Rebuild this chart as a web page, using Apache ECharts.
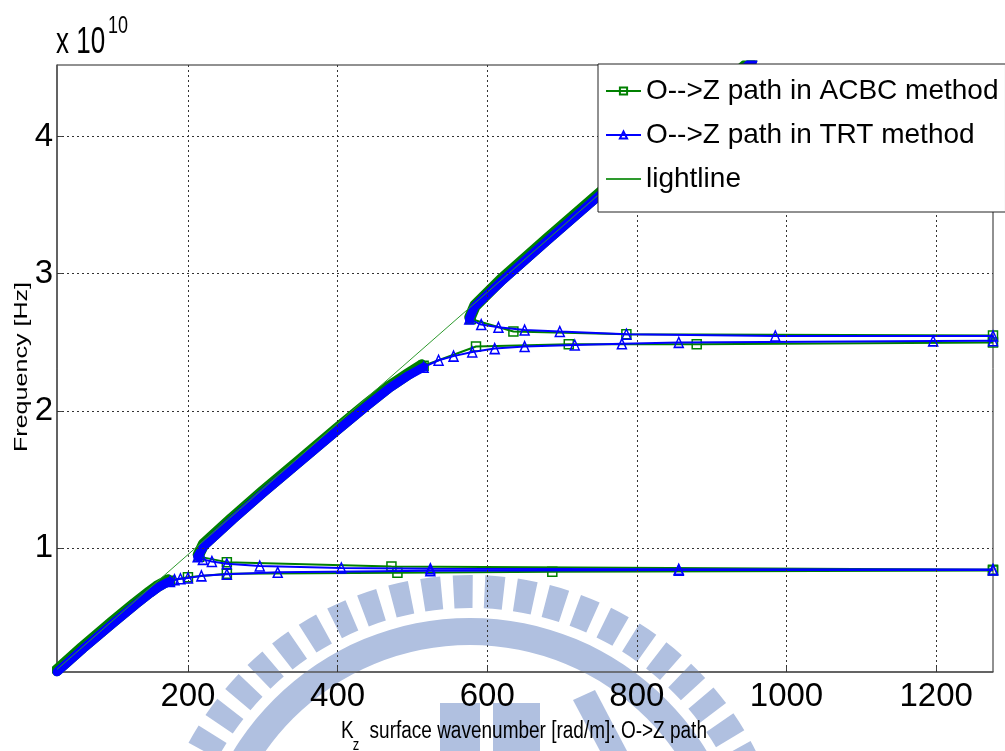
<!DOCTYPE html>
<html>
<head>
<meta charset="utf-8">
<script src="https://cdn.jsdelivr.net/npm/echarts@6/dist/echarts.min.js"></script>
<style>
html,body{margin:0;padding:0;background:#fff}
#chart{width:1005px;height:751px}
</style>
</head>
<body>
<div id="chart"></div>
<script>
// Surface-wave dispersion, O->Z path.
// k: surface wavenumber [rad/m]; f: frequency in units of 1e10 Hz.
const kTicks = [200, 400, 600, 800, 1000, 1200];
const fTicks = [1, 2, 3, 4];

// TRT method
const trtDenseK1 = [25, 60, 100, 130, 150, 160, 170, 176];
const trtDenseF1 = [0.10, 0.27, 0.455, 0.59, 0.675, 0.715, 0.745, 0.76];
const trtK1 = [176, 182, 190, 200, 218, 252, 320, 524, 856, 1276];
const trtF1 = [0.76, 0.772, 0.779, 0.785, 0.80, 0.812, 0.826, 0.838, 0.842, 0.843];
const trtK2 = [1276, 856, 524, 405, 296, 252, 232, 220, 213];
const trtF2 = [0.846, 0.848, 0.852, 0.858, 0.872, 0.888, 0.905, 0.92, 0.94];
const trtDenseK2 = [213, 222, 260, 300, 350, 400, 440, 470, 495, 515];
const trtDenseF2 = [0.94, 1.02, 1.21, 1.40, 1.63, 1.86, 2.04, 2.17, 2.26, 2.32];
const trtK3 = [515, 535, 555, 580, 610, 650, 717, 780, 856, 1196, 1276];
const trtF3 = [2.32, 2.37, 2.40, 2.43, 2.455, 2.47, 2.481, 2.49, 2.50, 2.511, 2.512];
const trtK4 = [1276, 985, 786, 697, 650, 615, 592, 576];
const trtF4 = [2.547, 2.547, 2.56, 2.579, 2.59, 2.61, 2.63, 2.67];
const trtDenseK4 = [576, 583, 620, 680, 750, 820, 880, 955];
const trtDenseF4 = [2.67, 2.76, 2.95, 3.24, 3.57, 3.90, 4.19, 4.55];

// ACBC method
const acbcDenseK1 = [25, 60, 100, 130, 150, 160, 170, 176];
const acbcDenseF1 = [0.10, 0.27, 0.455, 0.59, 0.675, 0.715, 0.745, 0.765];
const acbcK1 = [176, 200, 252, 480, 687, 1276];
const acbcF1 = [0.765, 0.79, 0.815, 0.823, 0.83, 0.84];
const acbcK2 = [1276, 472, 252, 215];
const acbcF2 = [0.845, 0.868, 0.90, 0.94];
const acbcDenseK2 = [215, 222, 260, 300, 350, 400, 440, 470, 495, 515];
const acbcDenseF2 = [0.94, 1.02, 1.21, 1.40, 1.63, 1.86, 2.04, 2.17, 2.26, 2.33];
const acbcK3 = [515, 585, 709, 880, 1276];
const acbcF3 = [2.33, 2.47, 2.487, 2.487, 2.50];
const acbcK4 = [1276, 786, 635, 578];
const acbcF4 = [2.55, 2.56, 2.58, 2.67];
const acbcDenseK4 = [578, 585, 620, 680, 750, 820, 880, 955];
const acbcDenseF4 = [2.67, 2.76, 2.95, 3.24, 3.57, 3.90, 4.19, 4.55];

// light line end points
const lightK = [25, 955];
const lightF = [0.119, 4.56];

const NAME_ACBC = 'O-->Z path in ACBC method';
const NAME_TRT = 'O-->Z path in TRT method';
const NAME_LIGHT = 'lightline';

const GREEN = '#008000';
const BLUE = '#0000ff';
const CLEAR = 'rgba(0,0,0,0)';
const NARROW = '"Liberation Sans Narrow","Arial Narrow","Liberation Sans",Arial,sans-serif';
const SANS = '"Liberation Sans",Arial,Helvetica,sans-serif';

const pairs = (k, f) => k.map((v, i) => [v, f[i]]);

function marked(name, k, f, color, symbol, size, z) {
  return {
    name, type: 'line', data: pairs(k, f), z,
    symbol, symbolSize: size, showSymbol: true, showAllSymbol: true,
    lineStyle: { color, width: 2 },
    itemStyle: { color: CLEAR, borderColor: color, borderWidth: 1.5 },
    emphasis: { disabled: true }, animation: false
  };
}
function band(name, k, f, color, width, z, shadow) {
  const ls = { color, width, cap: 'round', join: 'round' };
  if (shadow) Object.assign(ls, { shadowColor: color, shadowBlur: 0, shadowOffsetX: -2, shadowOffsetY: -2 });
  return {
    name, type: 'line', data: pairs(k, f), z, symbol: 'none', showSymbol: false,
    lineStyle: ls, emphasis: { disabled: true }, animation: false
  };
}

// pale background emblem: toothed ring, inner ring and a few blocks
const EMBLEM = '#b0c0e0';
const emblemCx = 470, emblemCy = 895;
const emblemParts = [];
for (let n = -14; n <= 14; n++) {
  const mid = (-91.3 + 5.85 * n) * Math.PI / 180;
  const half = 1.8 * Math.PI / 180;
  emblemParts.push({
    type: 'sector', silent: true,
    shape: { cx: emblemCx, cy: emblemCy, r0: 287, r: 320, startAngle: mid - half, endAngle: mid + half, clockwise: true },
    style: { fill: EMBLEM }
  });
}
emblemParts.push({
  type: 'ring', silent: true,
  shape: { cx: emblemCx, cy: emblemCy, r0: 250, r: 277 },
  style: { fill: EMBLEM }
});
emblemParts.push({ type: 'rect', silent: true, shape: { x: 440, y: 703, width: 40, height: 48 }, style: { fill: EMBLEM } });
emblemParts.push({ type: 'rect', silent: true, shape: { x: 493, y: 703, width: 47, height: 48 }, style: { fill: EMBLEM } });
emblemParts.push({ type: 'polygon', silent: true, shape: { points: [[573, 700], [595, 690], [627, 751], [600, 751]] }, style: { fill: EMBLEM } });

const gridMarks = kTicks.map(v => ({ xAxis: v })).concat(fTicks.map(v => ({ yAxis: v })));

const chart = echarts.init(document.getElementById('chart'), null, { renderer: 'canvas' });
chart.setOption({
  animation: false,
  backgroundColor: '#ffffff',
  grid: { left: 57, right: 12, top: 65, bottom: 79, show: true, borderColor: '#222', borderWidth: 1, backgroundColor: 'transparent' },
  xAxis: {
    type: 'value', min: 25, max: 1276,
    axisLine: { show: true, lineStyle: { color: '#555', width: 1.5 } },
    axisTick: { show: true, inside: true, length: 7, customValues: kTicks, lineStyle: { color: '#444' } },
    axisLabel: { customValues: kTicks, formatter: v => String(v), color: '#000', fontFamily: NARROW, fontSize: 33, margin: 8 },
    splitLine: { show: false }
  },
  yAxis: {
    type: 'value', min: 0.10, max: 4.52,
    axisLine: { show: true, lineStyle: { color: '#555', width: 1.5 } },
    axisTick: { show: true, inside: true, length: 7, customValues: fTicks, lineStyle: { color: '#444' } },
    axisLabel: { customValues: fTicks, formatter: v => String(v), color: '#000', fontFamily: NARROW, fontSize: 33, margin: 4 },
    splitLine: { show: false }
  },
  legend: {
    data: [NAME_ACBC, NAME_TRT, { name: NAME_LIGHT, itemStyle: { color: CLEAR, borderColor: CLEAR, borderWidth: 0 } }],
    orient: 'vertical', left: 598, top: 64,
    padding: [13, 7, 19, 7], itemGap: 16, itemWidth: 35, itemHeight: 9,
    backgroundColor: '#fff', borderColor: '#222', borderWidth: 1, borderRadius: 0,
    textStyle: { fontFamily: SANS, fontSize: 28, color: '#000' },
    selectedMode: false, z: 20
  },
  graphic: [
    { type: 'group', z: -5, silent: true, children: emblemParts },
    { type: 'text', left: 56, top: 24, z: 20, scaleY: 1.45,
      style: { text: 'x 10', font: '26px ' + SANS, fill: '#000' } },
    { type: 'text', left: 108, top: 14, z: 20, scaleY: 1.33,
      style: { text: '10', font: '18px ' + SANS, fill: '#000' } },
    { type: 'text', x: 22, y: 367, rotation: Math.PI / 2, scaleX: 1.32, z: 20,
      style: { text: 'Frequency [Hz]', font: '19px ' + SANS, fill: '#000', align: 'center', verticalAlign: 'middle' } },
    { type: 'text', x: 524, y: 731, scaleY: 1.3, z: 20,
      style: { text: 'K   surface wavenumber [rad/m]: O->Z path', font: '19px ' + SANS, fill: '#000', align: 'center', verticalAlign: 'middle' } },
    { type: 'text', x: 356, y: 745, scaleY: 1.3, z: 20,
      style: { text: 'z', font: '13px ' + SANS, fill: '#000', align: 'center', verticalAlign: 'middle' } }
  ],
  series: [
    marked(NAME_ACBC, acbcK1, acbcF1, GREEN, 'rect', 9, 2),
    marked(NAME_ACBC, acbcK2, acbcF2, GREEN, 'rect', 9, 2),
    marked(NAME_ACBC, acbcK3, acbcF3, GREEN, 'rect', 9, 2),
    marked(NAME_ACBC, acbcK4, acbcF4, GREEN, 'rect', 9, 2),
    band(NAME_ACBC, acbcDenseK1, acbcDenseF1, GREEN, 9, 2, true),
    band(NAME_ACBC, acbcDenseK2, acbcDenseF2, GREEN, 9, 2, true),
    band(NAME_ACBC, acbcDenseK4, acbcDenseF4, GREEN, 9, 2, true),
    marked(NAME_TRT, trtK1, trtF1, BLUE, 'triangle', [9, 10], 3),
    marked(NAME_TRT, trtK2, trtF2, BLUE, 'triangle', [9, 10], 3),
    marked(NAME_TRT, trtK3, trtF3, BLUE, 'triangle', [9, 10], 3),
    marked(NAME_TRT, trtK4, trtF4, BLUE, 'triangle', [9, 10], 3),
    band(NAME_TRT, trtDenseK1, trtDenseF1, BLUE, 9, 3, false),
    band(NAME_TRT, trtDenseK2, trtDenseF2, BLUE, 9, 3, false),
    band(NAME_TRT, trtDenseK4, trtDenseF4, BLUE, 9, 3, false),
    {
      name: NAME_LIGHT, type: 'line', data: pairs(lightK, lightF), z: 4,
      symbol: 'none', showSymbol: false, lineStyle: { color: '#2e9a2e', width: 1 },
      itemStyle: { color: CLEAR, borderColor: CLEAR, borderWidth: 0 },
      emphasis: { disabled: true }, animation: false
    },
    {
      name: 'grid', type: 'line', data: [], z: 1, silent: true, animation: false,
      markLine: {
        silent: true, symbol: 'none', animation: false, label: { show: false },
        lineStyle: { color: '#333', width: 1, type: [2, 3] },
        data: gridMarks
      }
    }
  ]
});
</script>
</body>
</html>
